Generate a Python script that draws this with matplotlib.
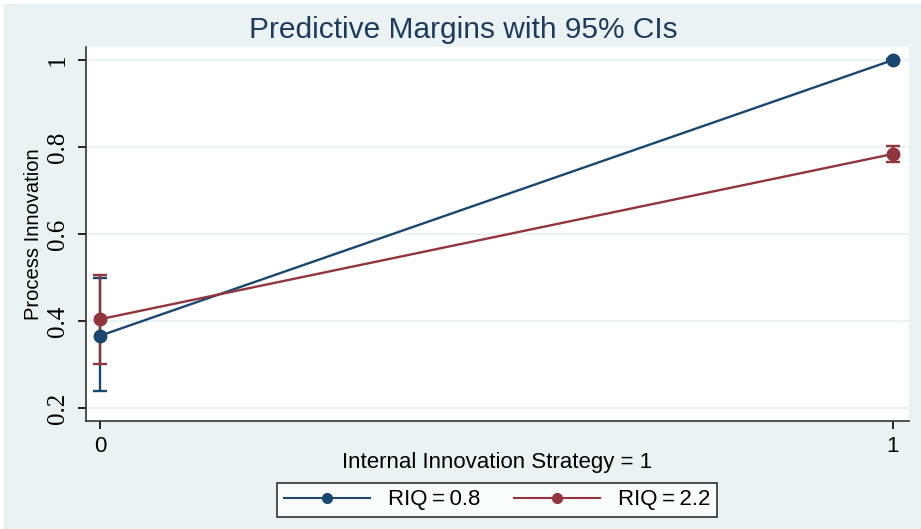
import matplotlib.pyplot as plt
from matplotlib.patches import Rectangle
from matplotlib.lines import Line2D

# Predictive margins
x_levels = [0, 1]
x_labels = ["0", "1"]
groups = ["RIQ\u2009=\u20090.8", "RIQ\u2009=\u20092.2"]
margin_lo = [0.366, 1.000]
ci_low_lo = [0.239, 0.998]
ci_high_lo = [0.499, 1.002]
margin_hi = [0.404, 0.784]
ci_low_hi = [0.300, 0.766]
ci_high_hi = [0.506, 0.802]
y_ticks = [0.2, 0.4, 0.6, 0.8, 1.0]
y_tick_labels = ["0.2", "0.4", "0.6", "0.8", "1"]

navy = "#1a476f"
maroon = "#90353b"
bg = "#eaf2f3"

plt.rcParams['font.family'] = ['Liberation Sans', 'DejaVu Sans']

fig = plt.figure(figsize=(9.21, 5.29), dpi=100, facecolor="white")
fig.patches.append(Rectangle((4 / 921, 0), 1 - 4 / 921, 1 - 4 / 529,
                             transform=fig.transFigure, color=bg, zorder=-10))

ax = fig.add_axes([86 / 921, 1 - 421 / 529, (909 - 86) / 921, (421 - 47) / 529])
ax.set_facecolor("white")

for m, lo, hi, col in [(margin_lo, ci_low_lo, ci_high_lo, navy),
                       (margin_hi, ci_low_hi, ci_high_hi, maroon)]:
    yerr = [[mi - l for mi, l in zip(m, lo)], [h - mi for mi, h in zip(m, hi)]]
    ax.errorbar(x_levels, m, yerr=yerr, color=col, lw=1.7, marker="o", ms=9,
                capsize=5, capthick=1.7, elinewidth=1.7, zorder=3)

ax.set_xlim(-0.0177, 1.0203)
ax.set_ylim(0.17, 1.03)
ax.set_yticks(y_ticks)
ax.set_yticklabels(y_tick_labels, rotation=90, va="center",
                   family=['Liberation Serif', 'DejaVu Serif'], fontsize=18)
ax.set_xticks(x_levels)
ax.set_xticklabels(x_labels, fontsize=16)
ax.tick_params(axis="y", length=6, width=1.2, pad=6)
ax.tick_params(axis="x", length=6, width=1.2, pad=5)
ax.grid(axis="y", color=bg, lw=1.5, zorder=0)
ax.set_axisbelow(True)
for s in ["top", "right"]:
    ax.spines[s].set_visible(False)
for s in ["left", "bottom"]:
    ax.spines[s].set_linewidth(1.2)
    ax.spines[s].set_color("#333333")

ax.set_ylabel("Process Innovation", fontsize=14.5, labelpad=3)
ax.set_xlabel("Internal Innovation Strategy = 1", fontsize=16, labelpad=-4)
fig.text(463 / 921, 1 - 30 / 529, "Predictive Margins with 95% CIs",
         ha="center", va="center", fontsize=21.5, color="#1e3b5e")

handles = [Line2D([0], [0], color=navy, marker="o", ms=7, lw=1.5),
           Line2D([0], [0], color=maroon, marker="o", ms=7, lw=1.5)]
leg = fig.legend(handles, groups, loc="center", ncol=2,
                 bbox_to_anchor=(497 / 921, 1 - 500 / 529), fontsize=16,
                 frameon=True, fancybox=False, edgecolor="black",
                 handlelength=3.9, handletextpad=0.8, columnspacing=1.5,
                 borderpad=0.3)
leg.get_frame().set_linewidth(1.2)

fig.savefig("out.png", dpi=100, facecolor=fig.get_facecolor())
